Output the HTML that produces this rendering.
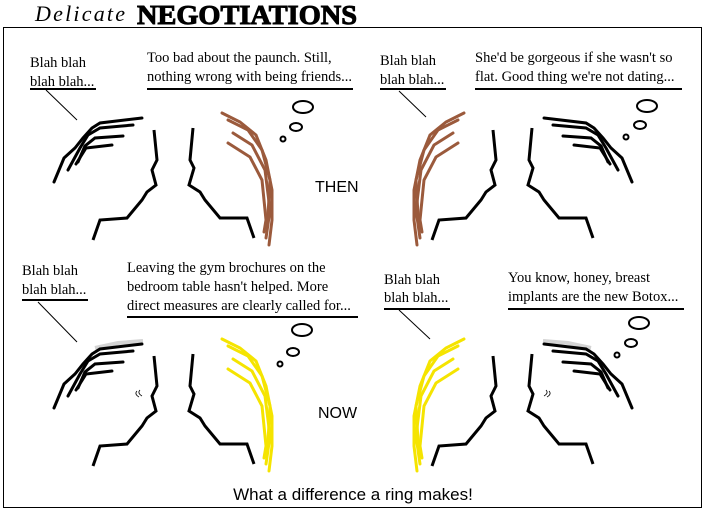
<!DOCTYPE html>
<html><head><meta charset="utf-8"><style>
html,body{margin:0;padding:0;background:#fff;}
svg{display:block;}
.t{font-family:"Liberation Serif",serif;font-size:14.5px;fill:#000;}
.s{font-family:"Liberation Sans",sans-serif;fill:#000;}
</style></head><body>
<svg width="705" height="511" viewBox="0 0 705 511" xmlns="http://www.w3.org/2000/svg">
<defs>
<g id="profL" fill="none" stroke="#000" stroke-width="3">
<polyline points="154,130 157,160 152,170 156,185 147,192 142,200 127,218 100,220 93,240"/>
</g>
<g id="profR" fill="none" stroke="#000" stroke-width="3">
<polyline points="193,128 190,160 194,168 189,185 200,192 205,200 220,218 247,218 254,238"/>
</g>
<g id="manHair" fill="none" stroke="#000" stroke-width="3" stroke-linecap="round">
<polyline points="142,118 100,123 92,128 83,138 75,148 64,158 54,182"/>
<polyline points="133,125 100,128 88,135 80,148 68,170"/>
<polyline points="123,136 95,138 85,146 78,162"/>
<polyline points="112,145 86,148 76,164"/>
</g>
<g id="wHair" fill="none" stroke-width="3" stroke-linecap="round">
<polyline points="222,113 240,122 256,135 266,160 272,190 272,220 269,245"/>
<polyline points="228,120 248,130 262,150 270,180 268,215 265,228"/>
<polyline points="233,133 252,145 265,170 270,210 266,238"/>
<polyline points="228,143 250,157 262,180 266,220 264,232"/>
</g>
</defs>

<text x="35" y="21" font-family="Liberation Serif,serif" font-style="italic" font-size="22" fill="#000" textLength="90">Delicate</text>
<text x="137" y="24" font-family="Liberation Serif,serif" font-weight="bold" font-size="27" fill="#000" textLength="220" lengthAdjust="spacingAndGlyphs" stroke="#000" stroke-width="1">NEGOTIATIONS</text>

<rect x="3.5" y="27.5" width="698" height="480" fill="none" stroke="#000" stroke-width="1"/>

<!-- top left -->
<text class="t" x="30" y="67">Blah blah</text>
<text class="t" x="30" y="86">blah blah...</text>
<line x1="30" y1="89" x2="96" y2="89" stroke="#000" stroke-width="2"/>
<line x1="46" y1="90" x2="77" y2="120" stroke="#000" stroke-width="1"/>
<text class="t" x="147" y="62">Too bad about the paunch. Still,</text>
<text class="t" x="147" y="81">nothing wrong with being friends...</text>
<line x1="147" y1="89" x2="353" y2="89" stroke="#000" stroke-width="2"/>
<use href="#manHair"/><use href="#profL"/><use href="#profR"/>
<use href="#wHair" stroke="#9b5a3c"/>
<g fill="none" stroke="#000" stroke-width="2">
<ellipse cx="303" cy="107" rx="10" ry="6"/><ellipse cx="296" cy="127" rx="6" ry="4"/><circle cx="283" cy="139" r="2.5"/>
</g>

<!-- top right -->
<text class="t" x="380" y="65">Blah blah</text>
<text class="t" x="380" y="84">blah blah...</text>
<line x1="380" y1="89" x2="446" y2="89" stroke="#000" stroke-width="2"/>
<line x1="399" y1="91" x2="426" y2="117" stroke="#000" stroke-width="1"/>
<text class="t" x="475" y="62">She'd be gorgeous if she wasn't so</text>
<text class="t" x="475" y="81">flat. Good thing we're not dating...</text>
<line x1="475" y1="89" x2="682" y2="89" stroke="#000" stroke-width="2"/>
<g transform="translate(339,0)"><use href="#profL"/><use href="#profR"/></g>
<g transform="translate(686,0) scale(-1,1)"><use href="#manHair"/><use href="#wHair" stroke="#9b5a3c"/></g>
<g fill="none" stroke="#000" stroke-width="2">
<ellipse cx="647" cy="106" rx="10" ry="6"/><ellipse cx="640" cy="125" rx="6" ry="4"/><circle cx="626" cy="137" r="2.5"/>
</g>
<text class="s" x="315" y="192" font-size="16">THEN</text>

<!-- bottom left -->
<text class="t" x="22" y="275">Blah blah</text>
<text class="t" x="22" y="294">blah blah...</text>
<line x1="22" y1="300" x2="88" y2="300" stroke="#000" stroke-width="2"/>
<line x1="38" y1="302" x2="77" y2="342" stroke="#000" stroke-width="1"/>
<text class="t" x="127" y="272">Leaving the gym brochures on the</text>
<text class="t" x="127" y="291">bedroom table hasn't helped. More</text>
<text class="t" x="127" y="310">direct measures are clearly called for...</text>
<line x1="127" y1="317" x2="358" y2="317" stroke="#000" stroke-width="2"/>
<g transform="translate(0,226)">
<polyline points="95,122 118,117 143,115" fill="none" stroke="#d4d4d4" stroke-width="4"/>
<use href="#manHair"/><use href="#profL"/><use href="#profR"/>
<use href="#wHair" stroke="#f5e400"/>
<path d="M137,165 q-3,3 2,6 M140,164 q-3,3 2,6" fill="none" stroke="#000" stroke-width="0.8"/>
</g>
<g fill="none" stroke="#000" stroke-width="2">
<ellipse cx="302" cy="330" rx="10" ry="6"/><ellipse cx="293" cy="352" rx="6" ry="4"/><circle cx="280" cy="364" r="2.5"/>
</g>

<!-- bottom right -->
<text class="t" x="384" y="284">Blah blah</text>
<text class="t" x="384" y="302">blah blah...</text>
<line x1="384" y1="309" x2="450" y2="309" stroke="#000" stroke-width="2"/>
<line x1="399" y1="310" x2="430" y2="339" stroke="#000" stroke-width="1"/>
<text class="t" x="508" y="282">You know, honey, breast</text>
<text class="t" x="508" y="301">implants are the new Botox...</text>
<line x1="508" y1="309" x2="684" y2="309" stroke="#000" stroke-width="2"/>
<g transform="translate(339,226)"><use href="#profL"/><use href="#profR"/></g>
<g transform="translate(686,226) scale(-1,1)">
<polyline points="95,122 118,117 143,115" fill="none" stroke="#d4d4d4" stroke-width="4"/>
<use href="#manHair"/><use href="#wHair" stroke="#f5e400"/>
<path d="M137,165 q-3,3 2,6 M140,164 q-3,3 2,6" fill="none" stroke="#000" stroke-width="0.8"/>
</g>
<g fill="none" stroke="#000" stroke-width="2">
<ellipse cx="639" cy="323" rx="10" ry="6"/><ellipse cx="631" cy="343" rx="6" ry="4"/><circle cx="617" cy="355" r="2.5"/>
</g>
<text class="s" x="318" y="418" font-size="16">NOW</text>

<text class="s" x="353" y="500" font-size="17" text-anchor="middle">What a difference a ring makes!</text>
</svg>
</body></html>
